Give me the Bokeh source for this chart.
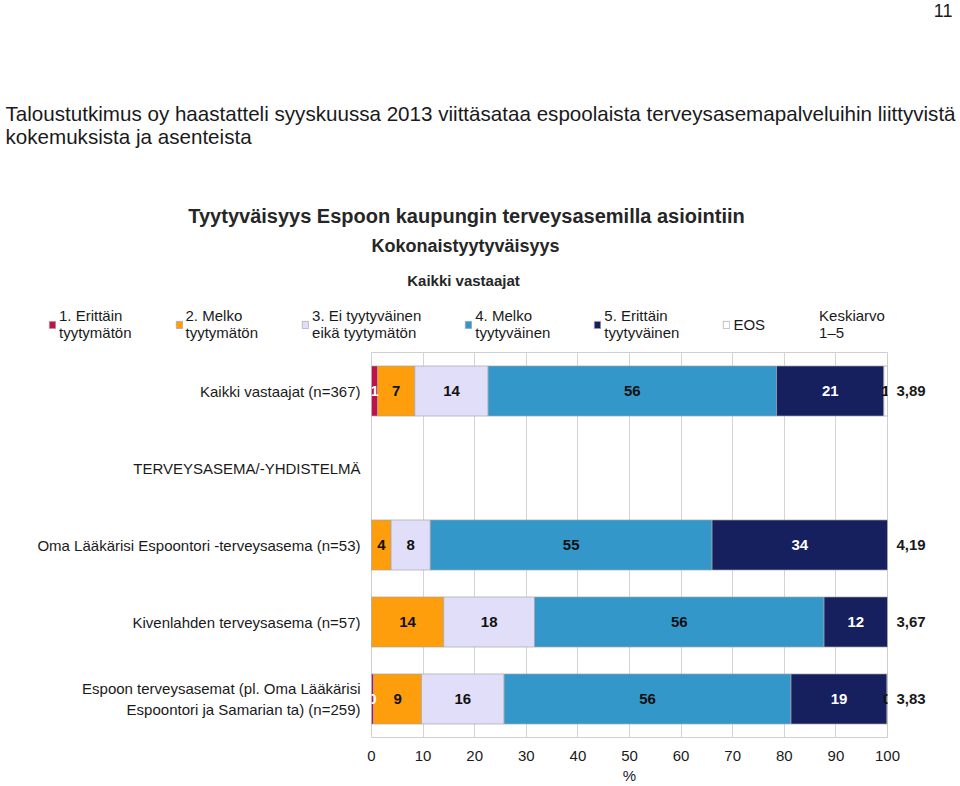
from bokeh.plotting import figure
from bokeh.models import (ColumnDataSource, Label, Legend, LegendItem,
                          Range1d, FixedTicker, LinearAxis)
from bokeh.layouts import column, row
from bokeh.embed import file_html
from bokeh.resources import INLINE
from bokeh.core.properties import value

# ---------------- data ----------------
categories = [
    "Kaikki vastaajat (n=367)",
    "TERVEYSASEMA/-YHDISTELMÄ",
    "Oma Lääkärisi Espoontori -terveysasema (n=53)",
    "Kivenlahden terveysasema (n=57)",
    "Espoon terveysasemat (pl. Oma Lääkärisi\nEspoontori ja Samarian ta) (n=259)",
]
bar_rows = [0, 2, 3, 4]  # rows of categories that have bars

series_names = ["1. Erittäin\ntyytymätön", "2. Melko\ntyytymätön",
                "3. Ei tyytyväinen\neikä tyytymätön", "4. Melko\ntyytyväinen",
                "5. Erittäin\ntyytyväinen", "EOS"]
mean_name = "Keskiarvo\n1–5"
erittain_tyytymaton = [1.2, 0.0, 0.0, 0.4]
melko_tyytymaton = [7.2, 3.8, 14.0, 9.3]
ei_kumpikaan = [14.2, 7.6, 17.6, 16.0]
melko_tyytyvainen = [55.9, 54.6, 56.1, 55.6]
erittain_tyytyvainen = [20.8, 34.0, 12.3, 18.6]
eos = [0.7, 0.0, 0.0, 0.1]
keskiarvo = ["3,89", "4,19", "3,67", "3,83"]

x_ticks = [0, 10, 20, 30, 40, 50, 60, 70, 80, 90, 100]

colors = ["#C0124A", "#FF9E0D", "#E1DEF9", "#3497CA", "#16205F", "#FFFFFF"]
label_colors = ["#FFFFFF", "#111111", "#111111", "#111111", "#FFFFFF", "#111111"]

FONT = "Liberation Sans"
TXT = "#1a1a1a"
W = 960
HEAD_H = 341
CHART_H = 445

# ---------------- header figure (texts + legend) ----------------
h = figure(width=W, height=HEAD_H, x_range=Range1d(0, W), y_range=Range1d(HEAD_H, 0),
           output_backend="svg", toolbar_location=None,
           x_axis_location=None, y_axis_location=None,
           min_border=0, min_border_left=0, min_border_right=0,
           min_border_top=0, min_border_bottom=0)
h.outline_line_color = None
h.grid.visible = False
h.background_fill_color = "white"
h.border_fill_color = "white"


def add_text(txt, x, y, size, bold=False, align="left", color=TXT):
    h.add_layout(Label(x=x, y=y, text=txt, text_font=FONT, text_font_size=size,
                       text_font_style="bold" if bold else "normal",
                       text_color=color, text_align=align, text_baseline="middle"))


add_text("11", 952, 10, "18px", align="right")
add_text("Taloustutkimus oy haastatteli syyskuussa 2013 viittäsataa espoolaista "
         "terveysasemapalveluihin liittyvistä", 5, 113, "20.6px")
add_text("kokemuksista ja asenteista", 5, 136, "20.6px")
add_text("Tyytyväisyys Espoon kaupungin terveysasemilla asiointiin", 466, 215, "20px",
         bold=True, align="center", color="#262626")
add_text("Kokonaistyytyväisyys", 465, 245, "18px", bold=True, align="center",
         color="#262626")
add_text("Kaikki vastaajat", 463, 280, "15px", bold=True, align="center",
         color="#262626")

nan = float("nan")
dummies = [h.hbar(y=[nan], right=[nan], height=0.5, fill_color=c,
                  line_color="#a6a6a6", line_width=0.7) for c in colors]
dummy_mean = h.hbar(y=[nan], right=[nan], height=0.5, fill_alpha=0, line_alpha=0)
items = [LegendItem(label=series_names[i], renderers=[dummies[i]]) for i in range(6)]
items.append(LegendItem(label=mean_name, renderers=[dummy_mean]))
legend = Legend(items=items, orientation="horizontal", location=(48, 0),
                glyph_width=8, glyph_height=9, label_standoff=3, spacing=43,
                padding=0, margin=0, border_line_color=None,
                background_fill_alpha=0, label_text_font=FONT,
                label_text_font_size="15px", label_text_color=TXT)
h.add_layout(legend, "center")

# ---------------- chart figure ----------------
ncat = len(categories)
ypos_all = [ncat - 1 - i for i in range(ncat)]
bar_y = [ypos_all[i] for i in bar_rows]

p = figure(width=W, height=CHART_H, x_range=Range1d(0, 100),
           y_range=Range1d(-0.5, ncat - 0.5),
           output_backend="svg", toolbar_location=None,
           min_border_left=371, min_border_right=73,
           min_border_top=11, min_border_bottom=49)
p.background_fill_color = "white"
p.border_fill_color = "white"
p.outline_line_color = "#cfcfcf"
p.outline_line_width = 1

p.xgrid.ticker = FixedTicker(ticks=x_ticks)
p.xgrid.grid_line_color = "#d4d4d4"
p.ygrid.grid_line_color = None

# x axis
p.xaxis.ticker = FixedTicker(ticks=x_ticks)
p.xaxis.axis_label = "%"
p.xaxis.axis_label_text_font = FONT
p.xaxis.axis_label_text_font_size = "15px"
p.xaxis.axis_label_text_font_style = "normal"
p.xaxis.axis_label_text_color = TXT
p.xaxis.axis_label_standoff = 3
p.xaxis.axis_line_color = None
p.xaxis.major_tick_line_color = None
p.xaxis.minor_tick_line_color = None
p.xaxis.major_tick_out = 0
p.xaxis.minor_tick_out = 0
p.xaxis.major_label_text_font = FONT
p.xaxis.major_label_text_font_size = "15px"
p.xaxis.major_label_text_color = TXT
p.xaxis.major_label_standoff = 13

# left axis: category names
p.yaxis.ticker = FixedTicker(ticks=ypos_all)
p.yaxis.major_label_overrides = {ypos_all[i]: categories[i] for i in range(ncat)}
p.yaxis.axis_line_color = None
p.yaxis.major_tick_line_color = None
p.yaxis.minor_tick_line_color = None
p.yaxis.major_tick_out = 0
p.yaxis.minor_tick_out = 0
p.yaxis.major_label_text_font = FONT
p.yaxis.major_label_text_font_size = "15px"
p.yaxis.major_label_text_color = TXT
p.yaxis.major_label_standoff = 11

# right axis: means
right = LinearAxis(ticker=FixedTicker(ticks=bar_y),
                   major_label_overrides={bar_y[i]: keskiarvo[i] for i in range(len(bar_y))},
                   axis_line_color=None, major_tick_line_color=None,
                   minor_tick_line_color=None, major_tick_out=0, minor_tick_out=0,
                   major_label_text_font=FONT,
                   major_label_text_font_size="15px", major_label_text_font_style="bold",
                   major_label_text_color=TXT, major_label_standoff=9)
p.add_layout(right, "right")

# bars
keys = ["s1", "s2", "s3", "s4", "s5", "s6"]
series = [erittain_tyytymaton, melko_tyytymaton, ei_kumpikaan,
          melko_tyytyvainen, erittain_tyytyvainen, eos]
src = ColumnDataSource(data=dict(y=bar_y, **{k: s for k, s in zip(keys, series)}))
p.hbar_stack(keys, y="y", height=0.65, source=src,
             fill_color=colors, line_color="#a6a6a6", line_width=0.7)

# segment labels
lx, ly, lt, lc = [], [], [], []
for r in range(len(bar_rows)):
    start = 0.0
    for si, s in enumerate(series):
        v = s[r]
        if v > 0:
            lx.append(start + v / 2)
            ly.append(bar_y[r])
            lt.append(f"{v:.0f}")
            lc.append(label_colors[si])
        start += v
lab_src = ColumnDataSource(data=dict(x=lx, y=ly, text=lt, color=lc))
p.text(x="x", y="y", text="text", text_color="color", source=lab_src,
       text_font=value(FONT), text_font_size="15px", text_font_style="bold",
       text_align="center", text_baseline="middle")

layout = column(row(h), row(p), spacing=0)
open("out.html", "w").write(file_html(layout, INLINE))
